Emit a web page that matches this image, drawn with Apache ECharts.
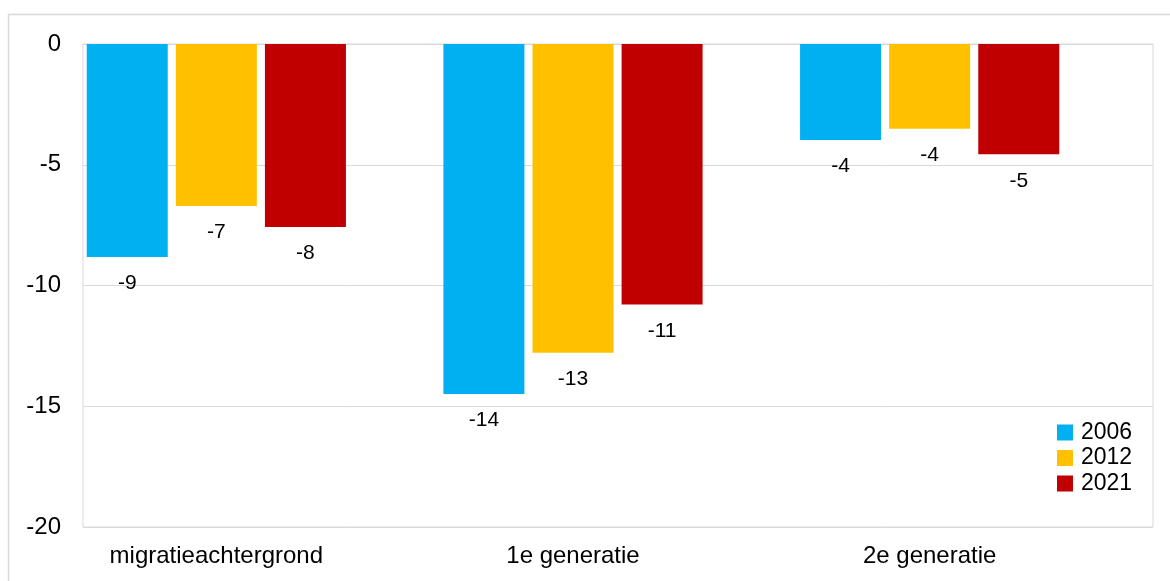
<!DOCTYPE html>
<html>
<head>
<meta charset="utf-8">
<script src="https://cdn.jsdelivr.net/npm/echarts@6/dist/echarts.min.js"></script>
<style>
html,body{margin:0;padding:0;background:#fff;}
#chart{width:1170px;height:581px;}
</style>
</head>
<body>
<div id="chart"></div>
<script>
const categories = ['migratieachtergrond', '1e generatie', '2e generatie'];
const seriesNames = ['2006', '2012', '2021'];
const values2006 = [-8.82, -14.49, -3.98];
const values2012 = [-6.71, -12.78, -3.51];
const values2021 = [-7.58, -10.79, -4.57];
const colors = ['#00B0F0', '#FFC000', '#C00000'];
const yMin = -20, yMax = 0, yInterval = 5;

const font = 'Liberation Sans, Arial, sans-serif';
const chart = echarts.init(document.getElementById('chart'));
const seriesData = [values2006, values2012, values2021];

chart.setOption({
  animation: false,
  textStyle: { fontFamily: font },
  graphic: [{
    type: 'rect', silent: true, z: -10,
    shape: { x: 8.5, y: 14.5, width: 1200, height: 620 },
    style: { fill: 'none', stroke: '#d9d9d9', lineWidth: 1.5 }
  }],
  grid: [
    { left: 83, top: 44, width: 1070, height: 483, show: true, borderColor: '#d9d9d9', borderWidth: 1, backgroundColor: 'transparent' },
    { left: 38, top: 44, width: 1070, height: 483, show: false }
  ],
  legend: {
    orient: 'vertical', left: 1052, top: 416,
    itemWidth: 16, itemHeight: 16, itemGap: 2.5,
    icon: 'rect',
    textStyle: { fontSize: 23, lineHeight: 23, color: '#000', fontFamily: font, padding: [0, 0, 0, 3] },
    data: seriesNames
  },
  xAxis: [
    { type: 'category', gridIndex: 0, data: categories, show: false },
    { type: 'category', gridIndex: 1, data: categories, position: 'bottom',
      axisLine: { show: false }, axisTick: { show: false },
      axisLabel: { fontSize: 24, color: '#000', margin: 17, fontFamily: font } }
  ],
  yAxis: [
    { type: 'value', gridIndex: 0, min: yMin, max: yMax, interval: yInterval,
      axisLine: { show: false }, axisTick: { show: false },
      axisLabel: { fontSize: 24, color: '#000', margin: 22, fontFamily: font },
      splitLine: { lineStyle: { color: '#d9d9d9', width: 1 } } },
    { type: 'value', gridIndex: 1, min: yMin, max: yMax, interval: yInterval, show: false,
      splitLine: { show: false } }
  ],
  series: seriesNames.map((n, i) => ({
    name: n, type: 'bar', xAxisIndex: 1, yAxisIndex: 1,
    data: seriesData[i],
    barWidth: 81, barGap: '10%',
    itemStyle: { color: colors[i] },
    label: {
      show: true, position: 'bottom', distance: 16,
      fontSize: 21, color: '#000', fontFamily: font,
      formatter: p => String(-Math.round(-p.value))
    }
  }))
});
</script>
</body>
</html>
